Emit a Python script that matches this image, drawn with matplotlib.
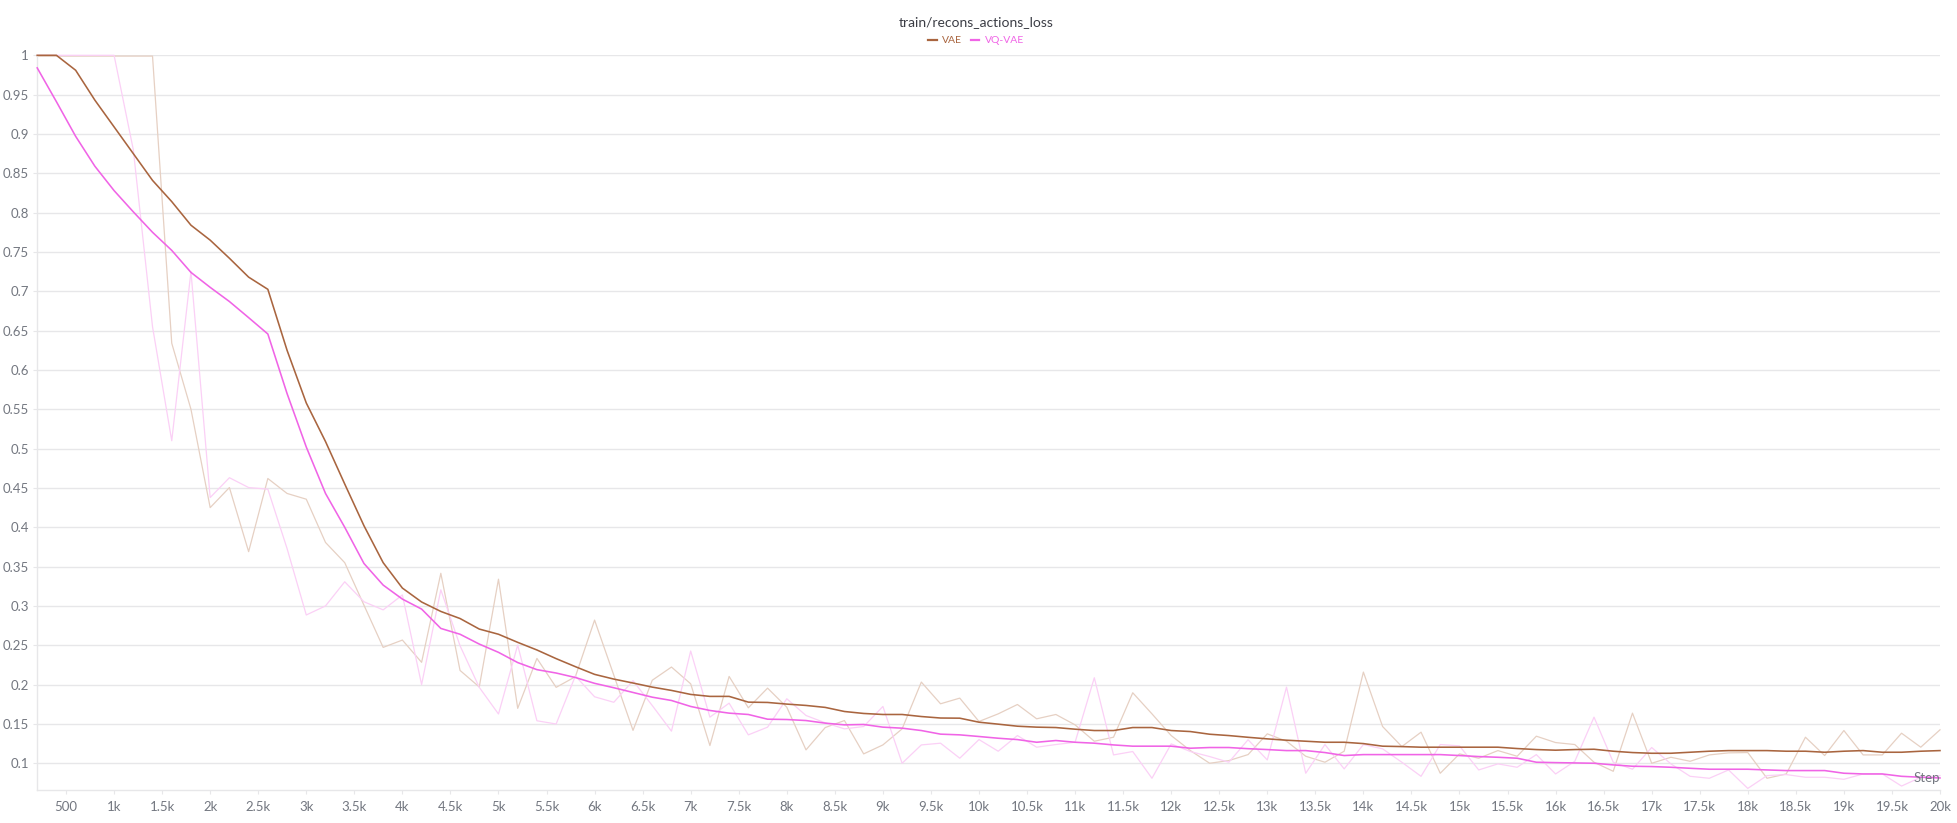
import matplotlib
matplotlib.use("Agg")
import matplotlib.pyplot as plt
from matplotlib.ticker import FixedLocator, FuncFormatter
from matplotlib.lines import Line2D

# ---------------- data ----------------
steps = list(range(200, 20001, 200))

vae_smooth = [1.0, 1.0, 0.981, 0.943, 0.909, 0.875, 0.841, 0.814, 0.784, 0.765,
              0.742, 0.718, 0.7025, 0.625, 0.558, 0.509, 0.455, 0.402, 0.355, 0.3227,
              0.305, 0.293, 0.284, 0.2706, 0.264, 0.2537, 0.244, 0.233, 0.2228, 0.213,
              0.207, 0.202, 0.1968, 0.1926, 0.1875, 0.185, 0.185, 0.1777, 0.1773, 0.1752,
              0.1735, 0.171, 0.1658, 0.1633, 0.162, 0.162, 0.1594, 0.1575, 0.1573, 0.1522,
              0.1497, 0.1471, 0.1459, 0.1454, 0.1433, 0.1416, 0.1416, 0.1454, 0.1454, 0.1416,
              0.1403, 0.1369, 0.1352, 0.133, 0.131, 0.1293, 0.128, 0.1267, 0.1267, 0.125,
              0.1217, 0.1212, 0.1204, 0.1204, 0.1204, 0.1204, 0.1204, 0.1187, 0.1174, 0.1166,
              0.1174, 0.1178, 0.1153, 0.1136, 0.1127, 0.1127, 0.114, 0.1153, 0.1161, 0.1161,
              0.1161, 0.1153, 0.1153, 0.114, 0.1153, 0.1161, 0.114, 0.114, 0.1153, 0.1161]

vq_smooth = [0.984, 0.941, 0.897, 0.859, 0.828, 0.801, 0.775, 0.752, 0.724, 0.705,
             0.687, 0.6665, 0.6457, 0.570, 0.502, 0.443, 0.400, 0.354, 0.3265, 0.3087,
             0.296, 0.2714, 0.264, 0.2515, 0.241, 0.228, 0.219, 0.2147, 0.209, 0.2016,
             0.196, 0.190, 0.184, 0.1798, 0.1722, 0.1671, 0.1637, 0.162, 0.156, 0.1556,
             0.1543, 0.151, 0.1488, 0.1493, 0.1459, 0.1446, 0.1416, 0.137, 0.1361, 0.134,
             0.1318, 0.1301, 0.1267, 0.1289, 0.1267, 0.1255, 0.1233, 0.1217, 0.1217, 0.1217,
             0.1191, 0.120, 0.120, 0.1185, 0.1174, 0.1161, 0.1161, 0.1136, 0.1098, 0.111,
             0.111, 0.111, 0.111, 0.111, 0.1098, 0.1085, 0.1076, 0.1064, 0.1013, 0.1008,
             0.1004, 0.1, 0.0979, 0.0962, 0.0958, 0.0949, 0.0936, 0.0924, 0.0924, 0.0924,
             0.0915, 0.0907, 0.0907, 0.0907, 0.0873, 0.0864, 0.0864, 0.0834, 0.0822, 0.0813]

vae_raw = [0.999, 0.999, 0.999, 0.999, 0.999, 0.999, 0.999, 0.634, 0.550, 0.425,
           0.4505, 0.369, 0.462, 0.443, 0.4357, 0.3807, 0.355, 0.301, 0.2473, 0.2566,
           0.2283, 0.3415, 0.218, 0.197, 0.334, 0.1698, 0.2333, 0.1965, 0.210, 0.282,
           0.212, 0.1418, 0.2055, 0.2223, 0.201, 0.1225, 0.2104, 0.1705, 0.1955, 0.1713,
           0.117, 0.1454, 0.1543, 0.1119, 0.1233, 0.1437, 0.2032, 0.1756, 0.1828, 0.1531,
           0.1628, 0.1747, 0.1565, 0.162, 0.1488, 0.128, 0.1331, 0.1896, 0.1628, 0.1352,
           0.1161, 0.1, 0.1034, 0.111, 0.1374, 0.128, 0.1089, 0.1013, 0.1153, 0.2159,
           0.1467, 0.1212, 0.1395, 0.0873, 0.1119, 0.1064, 0.1161, 0.1089, 0.1344, 0.1263,
           0.1238, 0.1013, 0.0898, 0.1637, 0.1, 0.1076, 0.1025, 0.1106, 0.1132, 0.1136,
           0.0809, 0.0864, 0.1331, 0.1098, 0.1416, 0.1106, 0.1106, 0.1382, 0.1204, 0.1425]

vq_raw = [1.0, 1.0, 1.0, 1.0, 1.0, 0.880, 0.655, 0.510, 0.725, 0.4378,
          0.463, 0.4505, 0.4484, 0.373, 0.2885, 0.300, 0.3307, 0.3053, 0.295, 0.314,
          0.200, 0.3205, 0.2494, 0.1965, 0.1626, 0.2503, 0.154, 0.1499, 0.211, 0.1845,
          0.1775, 0.205, 0.1734, 0.1408, 0.2427, 0.1586, 0.1764, 0.1361, 0.1459, 0.182,
          0.1607, 0.1514, 0.1437, 0.1467, 0.1722, 0.1, 0.1233, 0.1255, 0.1064, 0.1301,
          0.1153, 0.1352, 0.1204, 0.1238, 0.1267, 0.2087, 0.1106, 0.1149, 0.0809, 0.1246,
          0.1149, 0.1085, 0.1013, 0.1299, 0.1042, 0.1968, 0.0873, 0.1238, 0.0928, 0.1238,
          0.1183, 0.1013, 0.0834, 0.1238, 0.1221, 0.0915, 0.0992, 0.0949, 0.111, 0.0864,
          0.1025, 0.1586, 0.1013, 0.0924, 0.12, 0.0992, 0.0834, 0.0809, 0.0915, 0.068,
          0.0843, 0.0856, 0.0822, 0.0822, 0.0796, 0.0864, 0.0864, 0.071, 0.0822, 0.0843]

series_names = ["VAE", "VQ-VAE"]
title_text = "train/recons_actions_loss"
x_ticks = list(range(500, 20001, 500))
y_ticks = [round(0.1 + 0.05 * k, 2) for k in range(19)]

# ---------------- style ----------------
VAE_COL = "#a9653f"
VAE_RAW = "#e6d0c3"
VQ_COL = "#f064e6"
VQ_RAW = "#fbd0f6"
GRID = "#e7e7e9"
TXT = "#737780"

plt.rcParams['font.family'] = ['Lato', 'DejaVu Sans']

fig = plt.figure(figsize=(19.58, 8.23), dpi=100)
ax = fig.add_axes([0.0190, 0.0401, 0.9718, 0.8927])

ax.plot(steps, vae_raw, color=VAE_RAW, lw=0.9, zorder=2, clip_on=False)
ax.plot(steps, vq_raw, color=VQ_RAW, lw=0.9, zorder=2, clip_on=False)
ax.plot(steps, vae_smooth, color=VAE_COL, lw=1.15, zorder=4, clip_on=False)
ax.plot(steps, vq_smooth, color=VQ_COL, lw=1.15, zorder=3, clip_on=False)

ax.set_xlim(200, 20000)
ax.set_ylim(0.066, 1.0)

def fmt_x(v, pos):
    if v < 1000:
        return f"{int(v)}"
    k = v / 1000
    return f"{k:g}k"

def fmt_y(v, pos):
    return f"{round(v, 2):g}"

ax.xaxis.set_major_locator(FixedLocator(x_ticks))
ax.xaxis.set_major_formatter(FuncFormatter(fmt_x))
ax.yaxis.set_major_locator(FixedLocator(y_ticks))
ax.yaxis.set_major_formatter(FuncFormatter(fmt_y))

ax.grid(axis='y', color=GRID, lw=1.0, zorder=0)
ax.set_axisbelow(True)
for s in ['top', 'right']:
    ax.spines[s].set_visible(False)
for s in ['left', 'bottom']:
    ax.spines[s].set_color(GRID)
    ax.spines[s].set_linewidth(1.0)

ax.tick_params(axis='both', colors=GRID, labelcolor=TXT, labelsize=9.5, length=3, width=0.8)
ax.tick_params(axis='x', pad=5)
ax.tick_params(axis='y', pad=3)

ax.text(1.0, 0.0167, "Step", transform=ax.transAxes, ha='right', va='center',
        color=TXT, fontsize=9.5)

fig.text(0.4985, 0.9736, title_text, ha='center', va='center', color='#3b3d45', fontsize=10)

handles = [Line2D([0], [0], color=VAE_COL, lw=1.6),
           Line2D([0], [0], color=VQ_COL, lw=1.6)]
leg = fig.legend(handles, series_names, loc='center', bbox_to_anchor=(0.4985, 0.9505),
                 ncol=2, frameon=False, fontsize=7.5, handlelength=0.8,
                 handletextpad=0.5, columnspacing=0.9, borderpad=0.0)
for t, c in zip(leg.get_texts(), [VAE_COL, VQ_COL]):
    t.set_color(c)

fig.savefig("out.png", dpi=100)
